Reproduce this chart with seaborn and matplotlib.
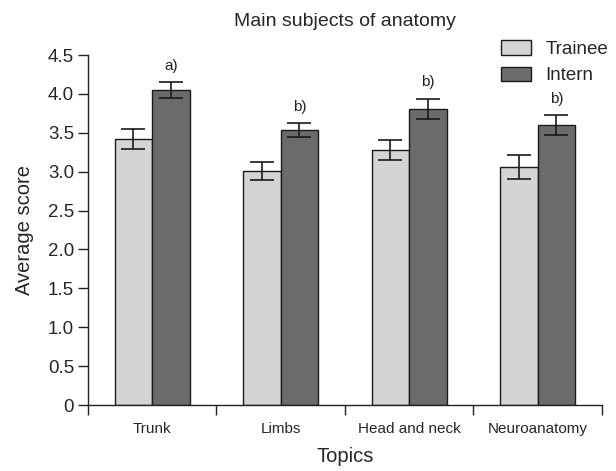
import numpy as np
import pandas as pd
import matplotlib
matplotlib.use("Agg")
import matplotlib.pyplot as plt
import seaborn as sns

topics = ["Trunk", "Limbs", "Head and neck", "Neuroanatomy"]
trainee = [3.42, 3.01, 3.28, 3.06]
trainee_err = [0.13, 0.12, 0.13, 0.16]
intern = [4.05, 3.53, 3.81, 3.60]
intern_err = [0.10, 0.09, 0.13, 0.13]
marks = ["a)", "b)", "b)", "b)"]

sns.set_style("ticks")
plt.rcParams["font.family"] = ["Liberation Sans", "DejaVu Sans"]

df = pd.DataFrame({
    "topic": topics * 2,
    "score": trainee + intern,
    "group": ["Trainee"] * 4 + ["Intern"] * 4,
})

fig = plt.figure(figsize=(6.16, 4.71), dpi=100)
ax = fig.add_axes([0.1429, 0.1401, 0.834, 0.7431])

sns.barplot(data=df, x="topic", y="score", hue="group", order=topics,
            hue_order=["Trainee", "Intern"], palette=["#d3d4d6", "#6a6b6e"],
            width=0.585, errorbar=None, edgecolor="#1a1a1a", linewidth=1.0,
            ax=ax)

# error bars at bar centres
for cont, errs in zip(ax.containers, [trainee_err, intern_err]):
    xs = [p.get_x() + p.get_width() / 2 for p in cont.patches]
    ys = [p.get_height() for p in cont.patches]
    ax.errorbar(xs, ys, yerr=errs, fmt="none", ecolor="#1a1a1a",
                elinewidth=1.2, capsize=8.5, capthick=1.2)

# significance marks above intern bars
for p, e, m in zip(ax.containers[1].patches, intern_err, marks):
    ax.text(p.get_x() + p.get_width() / 2, p.get_height() + e + 0.21, m,
            ha="center", va="center", fontsize=11, color="#222222")

ax.set_ylim(0, 4.5)
ax.set_xlim(-0.5, 3.5)
ax.set_yticks(np.arange(0, 4.51, 0.5))
ax.set_yticklabels(["0"] + [f"{v:.1f}" for v in np.arange(0.5, 4.51, 0.5)],
                   fontsize=13.5)
ax.set_xticks([-0.5, 0.5, 1.5, 2.5, 3.5])
ax.set_xticklabels([])
ax.set_xticks(range(4), minor=True)
ax.set_xticklabels(topics, minor=True, fontsize=11)
ax.tick_params(axis="x", which="minor", length=0, pad=12)
ax.tick_params(axis="x", which="major", length=7, width=1, color="#222222")
ax.tick_params(axis="y", length=7, width=1, color="#222222", pad=3)
for s in ["left", "bottom"]:
    ax.spines[s].set_color("#222222")
    ax.spines[s].set_linewidth(1)
sns.despine(ax=ax)

ax.set_xlabel("Topics", fontsize=14.5, labelpad=8)
ax.set_ylabel("Average score", fontsize=14.5, labelpad=10)
ax.set_title("Main subjects of anatomy", fontsize=14, pad=21)

ax.legend(loc="upper left", bbox_to_anchor=(0.8006, 0.93),
          bbox_transform=fig.transFigure, frameon=False, fontsize=13.5,
          handlelength=1.6, handleheight=0.8, handletextpad=0.8,
          labelspacing=0.45, borderaxespad=0)

fig.savefig("out.png", dpi=100)
